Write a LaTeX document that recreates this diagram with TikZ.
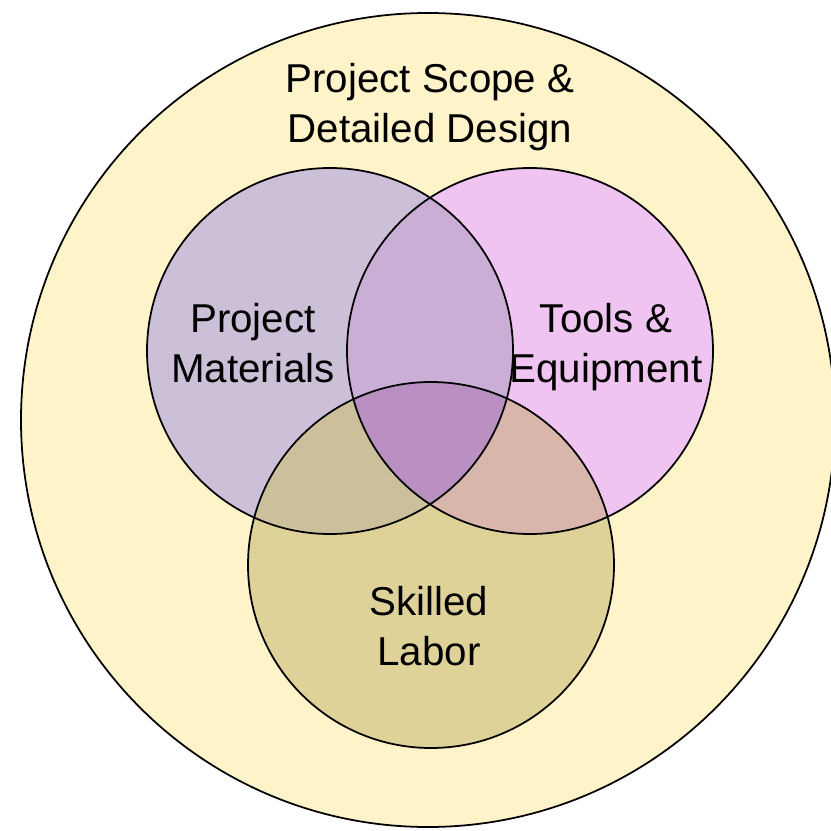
\documentclass[tikz,border=0pt]{standalone}
\usepackage{fontspec}
\setmainfont{Liberation Sans}
\usepackage{xcolor}
\usepackage{tikz}

\definecolor{scopefill}{RGB}{255,243,202}
\definecolor{matfill}{RGB}{203,192,216}
\definecolor{toolfill}{RGB}{240,196,240}
\definecolor{laborfill}{RGB}{222,210,152}
\definecolor{mtfill}{RGB}{203,174,214}
\definecolor{mlfill}{RGB}{204,192,156}
\definecolor{tlfill}{RGB}{216,182,172}
\definecolor{allfill}{RGB}{186,144,194}

\begin{document}
\begin{tikzpicture}[x=0.3mm, y=-0.3mm,
    every node/.style={font=\fontsize{34.4}{42.7}\selectfont, align=center},
    ring/.style={draw=black, line width=1.5pt}]
    \clip (0,0) rectangle (831,830);
    \fill[white] (0,0) rectangle (831,830);

    % centres of the circles
    \coordinate (scope) at (428,420);
    \coordinate (mat) at (330,351);
    \coordinate (tool) at (530,351);
    \coordinate (labor) at (431,565);

    \draw[ring, fill=scopefill] (scope) circle[radius=407];

    % single sets
    \fill[matfill] (mat) circle[radius=183];
    \fill[toolfill] (tool) circle[radius=183];
    \fill[laborfill] (labor) circle[radius=183];

    % pairwise overlaps
    \begin{scope}
        \clip (mat) circle[radius=183];
        \fill[mtfill] (tool) circle[radius=183];
        \fill[mlfill] (labor) circle[radius=183];
    \end{scope}
    \begin{scope}
        \clip (tool) circle[radius=183];
        \fill[tlfill] (labor) circle[radius=183];
    \end{scope}
    % all three
    \begin{scope}
        \clip (mat) circle[radius=183];
        \clip (tool) circle[radius=183];
        \fill[allfill] (labor) circle[radius=183];
    \end{scope}

    \draw[ring] (mat) circle[radius=183];
    \draw[ring] (tool) circle[radius=183];
    \draw[ring] (labor) circle[radius=183];

    \node (scopetext) at (430,107) {Project Scope \&\\Detailed Design};
    \node (mattext) at (253,343) {Project\\Materials};
    \node (tooltext) at (606,347) {Tools \&\\Equipment};
    \node (labortext) at (429,626) {Skilled\\Labor};
\end{tikzpicture}
\end{document}
